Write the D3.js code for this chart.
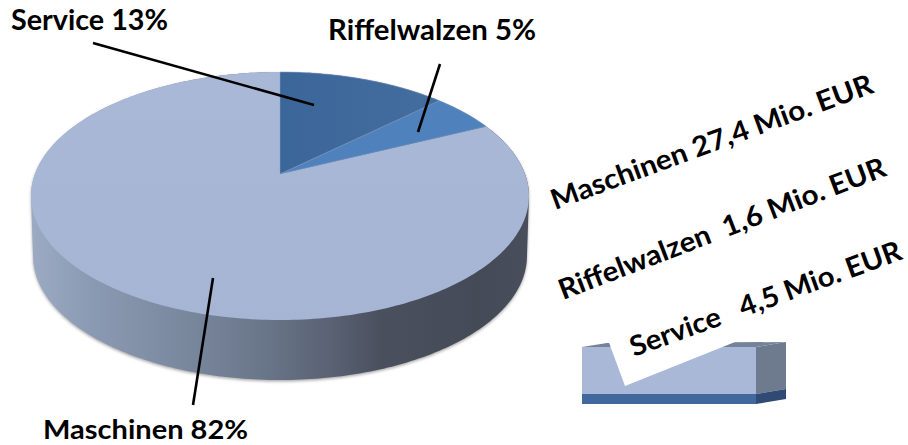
<!DOCTYPE html>
<html><head><meta charset="utf-8">
<style>html,body{margin:0;padding:0;background:#fff}svg{display:block}text{font-family:Lato,Carlito,sans-serif;font-weight:700;fill:#000}</style>
<script src="https://cdn.jsdelivr.net/npm/d3@7"></script></head>
<body><svg id="c" width="908" height="445"></svg>
<script>
const categories=["Service","Riffelwalzen","Maschinen"];
const shares=[13,5,82];
const revenueLabels=["Maschinen 27,4 Mio. EUR","Riffelwalzen  1,6 Mio. EUR","Service   4,5 Mio. EUR"];
const sliceColors=["url(#svc)","#4f81bd","#a8b7d6"];

const svg=d3.select("#c");
const defs=svg.append("defs");
function grad(id,stops,x1,x2,y1,y2){
  const g=defs.append("linearGradient").attr("id",id).attr("gradientUnits","userSpaceOnUse")
    .attr("x1",x1).attr("x2",x2).attr("y1",y1).attr("y2",y2);
  stops.forEach(s=>g.append("stop").attr("offset",s[0]).attr("stop-color",s[1]));
}
grad("wall",[[0,"#9caac3"],[.12,"#8b9ab3"],[.3,"#7b899f"],[.45,"#6b788c"],[.6,"#5a6274"],[.7,"#4a505e"],[.9,"#454a57"],[1,"#484e5b"]],31,529,0,0);
grad("svc",[[0,"#3b6699"],[1,"#436d9f"]],280,430,0,0);
grad("face",[[0,"#a9b8d7"],[1,"#a6b5d4"]],0,0,72,320);
defs.append("filter").attr("id","soft").attr("x","-5%").attr("y","-5%").attr("width","110%").attr("height","110%")
  .append("feGaussianBlur").attr("stdDeviation",1.4);

// Perspective projection of the pie's unit circle
const cx=280,cy=174,A=245,B=120.1,k=0.1774,depth=60;
const proj=(u,v)=>{const w=1-k*v;return [cx+A*u/w,cy+B*v/w];};
const rim=a=>proj(Math.sin(a),-Math.cos(a));
const line=d3.line();
const arcs=d3.pie().sort(null).value(d=>d)(shares);

// Wall + shadow
const fine=d3.range(0,361).map(d=>d*Math.PI/180);
const rimPts=fine.map(rim);
const lo=d3.scaleLinear().domain([31,529]).range([33,527]);
const lowPts=rimPts.map(p=>[lo(p[0]),p[1]+depth]);
const hullPts=d3.polygonHull(rimPts.concat(lowPts));
svg.append("path").attr("d",line(hullPts.map(p=>[p[0],p[1]+1.5]))+"Z").attr("fill","#a8a8a8").attr("filter","url(#soft)");
svg.append("path").attr("d",line(hullPts)+"Z").attr("fill","url(#wall)");

// Top slices
const g=svg.append("g");
g.selectAll("path").data(arcs.slice().reverse()).join("path")
 .attr("d",d=>{
   const n=Math.ceil((d.endAngle-d.startAngle)*180/Math.PI);
   const pts=d3.range(n+1).map(i=>rim(d.startAngle+(d.endAngle-d.startAngle)*i/n));
   return line([[cx,cy],...pts])+"Z";
 })
 .attr("fill",d=>d.index===2?"url(#face)":sliceColors[d.index])
 .attr("stroke",d=>d.index===2?"none":"#8aa3cb").attr("stroke-width",.5);

// Legend block
const bx=svg.append("g");
bx.append("path").attr("d","M582,347L607,343L786,342L756,347Z").attr("fill","#75839a");
bx.append("rect").attr("x",582).attr("y",347).attr("width",174).attr("height",47).attr("fill","#a9b8d7");
bx.append("rect").attr("x",582).attr("y",394).attr("width",174).attr("height",10).attr("fill","#41699e");
bx.append("path").attr("d","M756,347L786,342L786,389L756,394Z").attr("fill","#6e7a8e");
bx.append("path").attr("d","M756,394L786,389L786,399L756,404Z").attr("fill","#2f4a73");
bx.append("path").attr("d","M608,340L625,386L740,340Z").attr("fill","#fff");

// Leader lines
const leaders=[[[93,43],[314,105]],[[440,64],[418,132]],[[213,278],[193,405]]];
svg.selectAll("line.l").data(leaders).join("line").attr("class","l")
 .attr("x1",d=>d[0][0]).attr("y1",d=>d[0][1]).attr("x2",d=>d[1][0]).attr("y2",d=>d[1][1])
 .attr("stroke","#000").attr("stroke-width",2.6);

// Labels
const labelPos=[[11,30],[328,40],[43,438.5]];
const labelWidths=[157,208,205];
const labelSizes=[28,28,26];
svg.selectAll("text.p").data(arcs).join("text").attr("class","p")
 .attr("x",(d,i)=>labelPos[i][0]).attr("y",(d,i)=>labelPos[i][1])
 .attr("font-size",(d,i)=>labelSizes[i]).attr("textLength",(d,i)=>labelWidths[i]).attr("lengthAdjust","spacingAndGlyphs")
 .text(d=>categories[d.index]+" "+d.value+"%");
const revPos=[[555,210,-20.2],[563,300,-21],[634,357,-20]];
const revWidths=[341,348,287];
svg.selectAll("text.r").data(revenueLabels).join("text").attr("class","r")
 .attr("transform",(d,i)=>`translate(${revPos[i][0]},${revPos[i][1]}) rotate(${revPos[i][2]})`)
 .attr("font-size",28).style("white-space","pre")
 .attr("textLength",(d,i)=>revWidths[i]).attr("lengthAdjust","spacingAndGlyphs")
 .text(d=>d);
</script></body></html>
